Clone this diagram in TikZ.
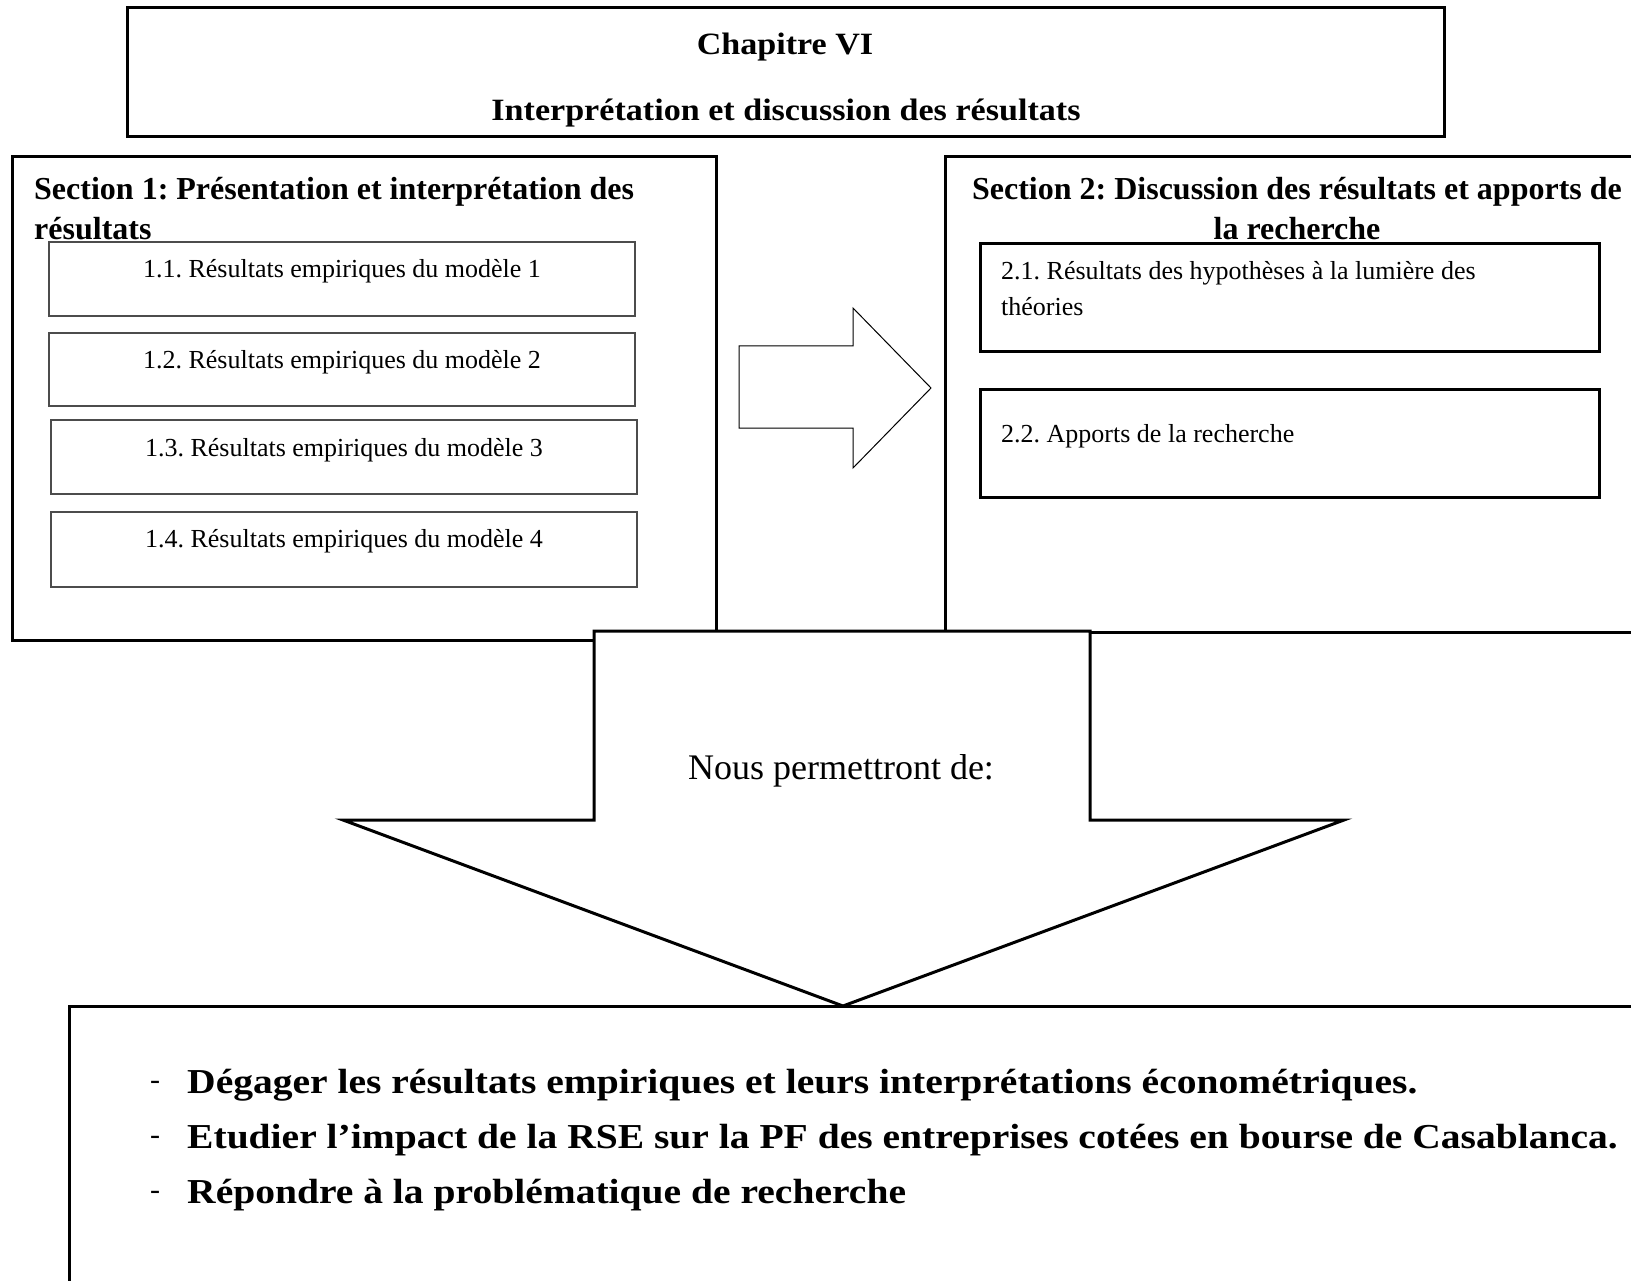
\documentclass[tikz,border=0pt]{standalone}
\usepackage{fontspec}
\setmainfont{Liberation Serif}
\newfontfamily\widefont[FakeStretch=1.13]{Liberation Serif}
\newfontfamily\chapfont[FakeStretch=1.1]{Liberation Serif}
\begin{document}
\frenchspacing
\begin{tikzpicture}[x=1pt,y=-1pt,
  thick box/.style={draw=black,line width=3pt,fill=white},
  thin box/.style={draw=black!70,line width=1.5pt},
  sec title/.style={font=\fontsize{32}{38}\selectfont\bfseries,inner sep=0pt},
  item text/.style={font=\fontsize{26}{32}\selectfont,inner sep=0pt},
  chap text/.style={font=\chapfont\fontsize{31}{36}\selectfont\bfseries,inner sep=0pt},
  bullet text/.style={font=\widefont\fontsize{35}{40}\selectfont\bfseries,inner sep=0pt,anchor=west}]
\useasboundingbox (0,0) rectangle (1631,1281);
% chapter box
\draw[thick box] (127,8) rectangle (1444,137);
\node[chap text] (chap) at (785,47) {Chapitre VI};
\node[chap text] (chapsub) at (786,113) {Interprétation et discussion des résultats};
% section 1
\draw[thick box] (12.5,157) rectangle (716,640);
\node[sec title,anchor=west] (s1a) at (34,192) {Section 1: Présentation et interprétation des};
\node[sec title,anchor=west] (s1b) at (34,229) {résultats};
\draw[thin box] (49,242) rectangle (635,316);
\node[item text] (i1) at (342,271) {1.1. Résultats empiriques du modèle 1};
\draw[thin box] (49,333) rectangle (635,406);
\node[item text] (i2) at (342,362) {1.2. Résultats empiriques du modèle 2};
\draw[thin box] (51,420) rectangle (637,494);
\node[item text] (i3) at (344,450) {1.3. Résultats empiriques du modèle 3};
\draw[thin box] (51,512) rectangle (637,587);
\node[item text] (i4) at (344,541) {1.4. Résultats empiriques du modèle 4};
% section 2
\draw[thick box] (945,157) rectangle (1640,632);
\node[sec title] (s2a) at (1297,192) {Section 2: Discussion des résultats et apports de};
\node[sec title] (s2b) at (1297,229) {la recherche};
\draw[thick box] (980,244) rectangle (1599,352);
\node[item text,anchor=west] (j1a) at (1001,273) {2.1. Résultats des hypothèses à la lumière des};
\node[item text,anchor=west] (j1b) at (1001,307) {théories};
\draw[thick box] (980,389) rectangle (1599,497);
\node[item text,anchor=west] (j2) at (1001,436) {2.2. Apports de la recherche};
% right arrow
\draw[line width=1pt,fill=white] (739,346) -- (853,346) -- (853,308) -- (931,388) -- (853,468) -- (853,428) -- (739,428) -- cycle;
% bottom box
\draw[thick box] (69,1006) -- (1640,1006) -- (1640,1300) -- (69,1300) -- cycle;
% down arrow
\draw[line width=3pt,fill=white,line join=miter] (594,631) -- (1090,631) -- (1090,820) -- (1344,820) -- (843,1006) -- (343,820) -- (594,820) -- cycle;
\node[font=\fontsize{36}{40}\selectfont,inner sep=0pt] (nous) at (841,771) {Nous permettront de:};
% bullets
\node[font=\fontsize{30}{36}\selectfont,inner sep=0pt,anchor=west] (d1) at (150,1085) {-};
\node[bullet text] (b1) at (187,1085) {Dégager les résultats empiriques et leurs interprétations économétriques.};
\node[font=\fontsize{30}{36}\selectfont,inner sep=0pt,anchor=west] (d2) at (150,1140) {-};
\node[bullet text] (b2) at (187,1140) {Etudier l’impact de la RSE sur la PF des entreprises cotées en bourse de Casablanca.};
\node[font=\fontsize{30}{36}\selectfont,inner sep=0pt,anchor=west] (d3) at (150,1195) {-};
\node[bullet text] (b3) at (187,1195) {Répondre à la problématique de recherche};
\end{tikzpicture}
\end{document}
